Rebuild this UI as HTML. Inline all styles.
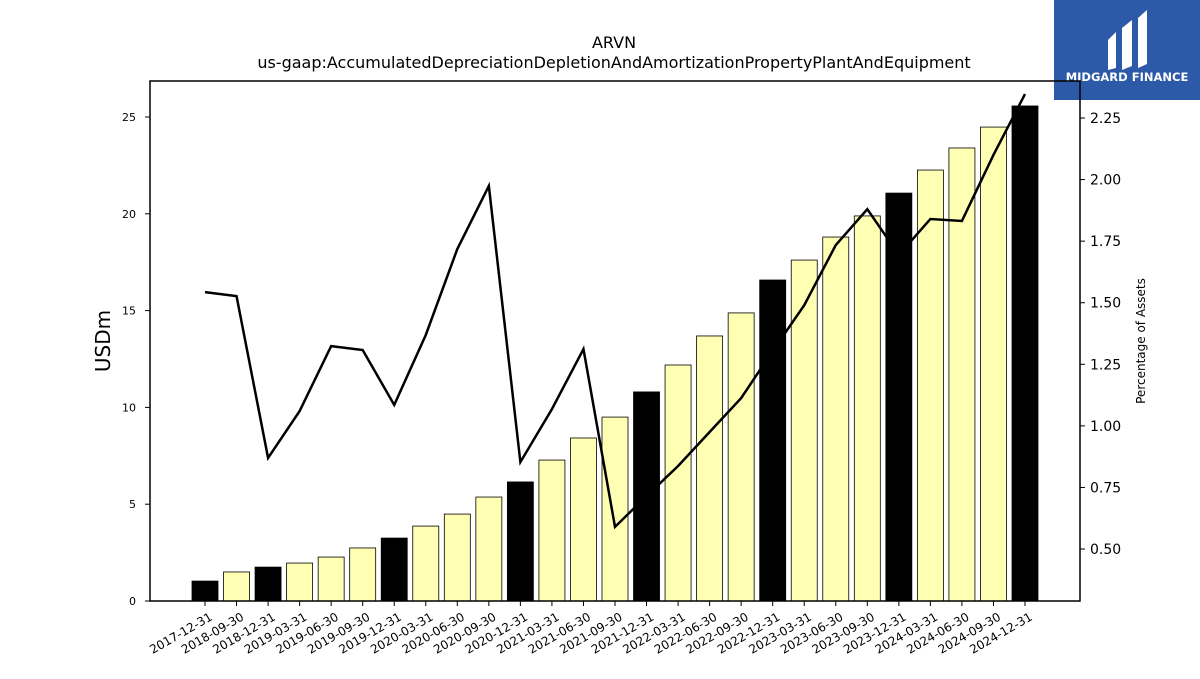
<!DOCTYPE html>
<html><head><meta charset="utf-8"><style>
body{margin:0;background:#fff;font-family:"DejaVu Sans","Liberation Sans",sans-serif}
svg text{font-family:"DejaVu Sans","Liberation Sans",sans-serif}
</style></head><body>
<svg id="chart" width="1200" height="675" xmlns="http://www.w3.org/2000/svg">
<rect width="1200" height="675" fill="#fff"/>
<text x="614" y="48" text-anchor="middle" font-size="16">ARVN</text>
<text x="614" y="68" text-anchor="middle" font-size="16">us-gaap:AccumulatedDepreciationDepletionAndAmortizationPropertyPlantAndEquipment</text>
<g>
<rect x="1054" y="0" width="146" height="100" fill="#2c5aa8"/>
<path d="M1108 40 L1116 32 L1116 68 L1108 70 Z M1122 28 L1132 20 L1132 66 L1122 70 Z M1138 18 L1147 10 L1147 64 L1138 68 Z" fill="#fff"/>
<text x="1127" y="81" text-anchor="middle" font-size="11.5" font-weight="bold" fill="#fff">MIDGARD FINANCE</text>
</g>
<g id="bars"></g><g id="axes"></g>
<path id="line" fill="none" stroke="#000" stroke-width="2.5"/>
<rect x="150" y="81" width="930" height="520" fill="none" stroke="#000" stroke-width="1.5"/>
<text transform="translate(110,341) rotate(-90)" text-anchor="middle" font-size="20">USDm</text>
<text transform="translate(1145,341) rotate(-90)" text-anchor="middle" font-size="12">Percentage of Assets</text>
</svg>
<script>
const categories=["2017-12-31","2018-09-30","2018-12-31","2019-03-31","2019-06-30","2019-09-30","2019-12-31","2020-03-31","2020-06-30","2020-09-30","2020-12-31","2021-03-31","2021-06-30","2021-09-30","2021-12-31","2022-03-31","2022-06-30","2022-09-30","2022-12-31","2023-03-31","2023-06-30","2023-09-30","2023-12-31","2024-03-31","2024-06-30","2024-09-30","2024-12-31"];
const values=[1.03,1.5,1.75,1.96,2.27,2.74,3.25,3.87,4.49,5.37,6.15,7.28,8.42,9.5,10.8,12.19,13.69,14.88,16.58,17.61,18.8,19.89,21.07,22.26,23.4,24.48,25.57];
const pct=[1.543,1.527,0.87,1.06,1.324,1.308,1.085,1.369,1.718,1.974,0.853,1.068,1.312,0.59,0.715,0.837,0.975,1.113,1.304,1.49,1.734,1.88,1.694,1.84,1.832,2.1,2.347];
const leftTicks=[0,5,10,15,20,25];
const rightTicks=[0.5,0.75,1.0,1.25,1.5,1.75,2.0,2.25];
const NS="http://www.w3.org/2000/svg";
const x=i=>205+i*(1025-205)/(categories.length-1);
const yL=v=>601-v*19.36;
const yR=v=>118+(2.25-v)*246.3;
function mk(t,a,p){const e=document.createElementNS(NS,t);for(const k in a)e.setAttribute(k,a[k]);p.appendChild(e);return e;}
const bars=document.getElementById('bars'),axes=document.getElementById('axes');
categories.forEach((c,i)=>{
 const b=mk('rect',{x:x(i)-13,y:yL(values[i]),width:26,height:601-yL(values[i]),fill:c.endsWith('12-31')?'#000':'#ffffb3',stroke:'#000','stroke-width':0.8},bars);
 
 
 mk('line',{x1:x(i),x2:x(i),y1:601,y2:606,stroke:'#000'},axes);
 const t=mk('text',{transform:`translate(${x(i)+4},${612}) rotate(-30)`,'text-anchor':'end','font-size':12,dy:'0.7em'},axes);
 t.textContent=c;
 
 
});
leftTicks.forEach(v=>{
 mk('line',{x1:145,x2:150,y1:yL(v),y2:yL(v),stroke:'#000'},axes);
 const t=mk('text',{x:136,y:yL(v)+4,'text-anchor':'end','font-size':11},axes);
 t.textContent=v;
 
 
});
rightTicks.forEach(v=>{
 mk('line',{x1:1080,x2:1085,y1:yR(v),y2:yR(v),stroke:'#000'},axes);
 const t=mk('text',{x:1090,y:yR(v)+5,'font-size':14},axes);
 t.textContent=v.toFixed(2);
 
 
});
document.getElementById('line').setAttribute('d',pct.map((v,i)=>(i?'L':'M')+x(i)+' '+yR(v)).join(' '));
</script>
</body></html>
